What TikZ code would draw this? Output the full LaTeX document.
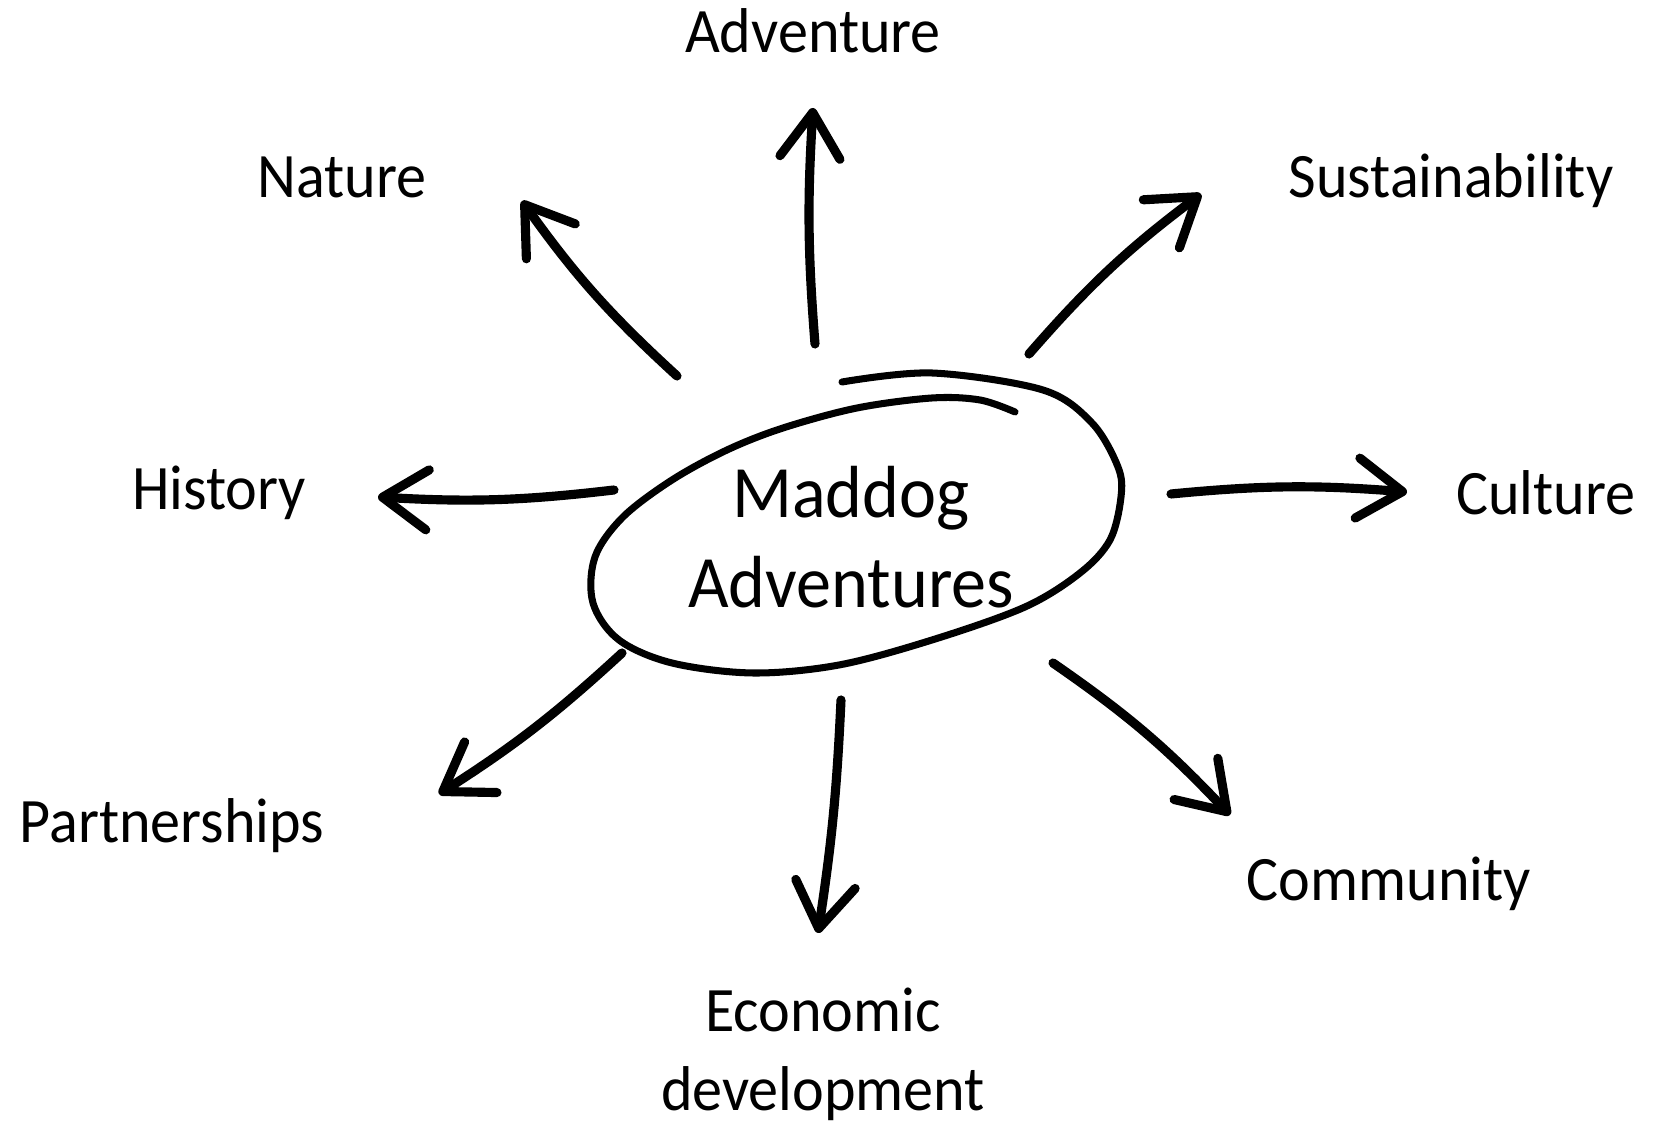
\documentclass[tikz,border=0pt]{standalone}
\usepackage{fontspec}
\setmainfont{Carlito}[FakeStretch=0.95]
\usetikzlibrary{arrows.meta}
\begin{document}
\begin{tikzpicture}[x=0.01cm,y=0.01cm,
    topic/.style={anchor=base, inner sep=0pt, font=\fontsize{18pt}{22.5pt}\selectfont},
    hub/.style={anchor=base, inner sep=0pt, align=center, font=\fontsize{21pt}{25.6pt}\selectfont},
    ring/.style={line width=2pt, line cap=round},
    spoke/.style={line width=2.6pt, line cap=round, line join=round, -{Straight Barb[round,length=4.5mm,width=6mm]}}]
  \useasboundingbox (0,0) rectangle (1659,1124);
  % centre
  \node[hub] (hub) at (851,516) {Maddog\\Adventures};
  \draw[ring] plot[smooth, tension=0.55] coordinates {(842,742) (932,751) (1043,734) (1092,701) (1118,657) (1121,627) (1110,584) (1080,551) (1025,517) (932,484) (839,459) (753,451) (672,461) (619,484) (593,521) (595,567) (623,607) (672,644) (727,674) (783,696) (857,716) (932,726) (980,724) (1015,712)};
  % topics
  \node[topic] (adventure) at (813,1071) {Adventure};
  \node[topic] (nature) at (342,926) {Nature};
  \node[topic] (sustain) at (1451,926) {Sustainability};
  \node[topic] (history) at (219,614) {History};
  \node[topic] (culture) at (1546,609) {Culture};
  \node[topic] (partners) at (172,281) {Partnerships};
  \node[topic] (community) at (1389,223) {Community};
  \node[topic, align=center] (economy) at (823,13) {Economic\\development};
  % arrow ends
  \coordinate (adv-from) at (815,780);   \coordinate (adv-to) at (813,1016);
  \coordinate (nat-from) at (677,748);   \coordinate (nat-to) at (522,923);
  \coordinate (sus-from) at (1029,770);  \coordinate (sus-to) at (1201,930);
  \coordinate (his-from) at (614,634);   \coordinate (his-to) at (378,627);
  \coordinate (cul-from) at (1171,630);  \coordinate (cul-to) at (1407,632);
  \coordinate (par-from) at (622,471);   \coordinate (par-to) at (439,330);
  \coordinate (eco-from) at (841,424);   \coordinate (eco-to) at (818,191);
  \coordinate (com-from) at (1053,461);  \coordinate (com-to) at (1230,309);
  \draw[spoke] (adv-from) to[bend left=4] (adv-to);
  \draw[spoke] (nat-from) to[bend left=6] (nat-to);
  \draw[spoke] (sus-from) to[bend left=6] (sus-to);
  \draw[spoke] (his-from) to[bend left=5] (his-to);
  \draw[spoke] (cul-from) to[bend left=5] (cul-to);
  \draw[spoke] (par-from) to[bend left=5] (par-to);
  \draw[spoke] (eco-from) to[bend left=3] (eco-to);
  \draw[spoke] (com-from) to[bend left=6] (com-to);
\end{tikzpicture}
\end{document}
